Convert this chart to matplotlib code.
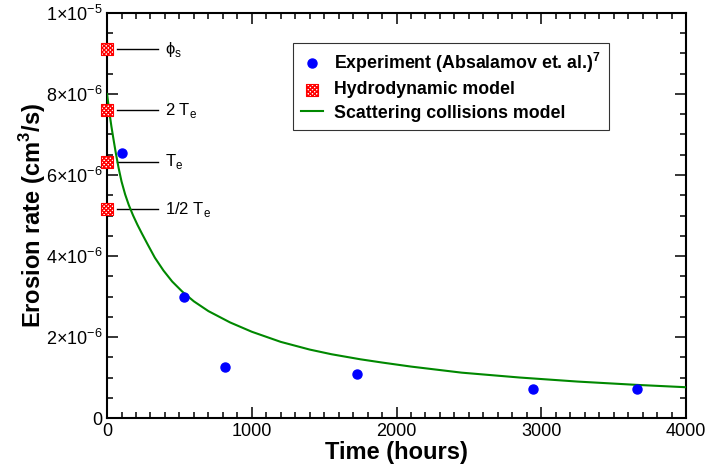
import numpy as np
import matplotlib
matplotlib.use("Agg")
import matplotlib.pyplot as plt
from matplotlib.ticker import MultipleLocator, FuncFormatter

# Experiment (Absalamov et al.)
exp_t = [106, 535, 812, 1730, 2940, 3662]
exp_rate = [6.55e-6, 3.0e-6, 1.27e-6, 1.09e-6, 0.71e-6, 0.72e-6]

# Hydrodynamic model values (at t = 0)
hyd_t = [0, 0, 0, 0]
hyd_rate = [9.10e-6, 7.60e-6, 6.33e-6, 5.16e-6]
hyd_labels = [r"ϕ$_\mathregular{s}$", r"2 T$_\mathregular{e}$",
              r"T$_\mathregular{e}$", r"1/2 T$_\mathregular{e}$"]

# Scattering collisions model
sc_t = [0, 10, 20, 30, 45, 60, 80, 100, 125, 150, 180, 210, 240, 280, 330,
        390, 450, 520, 600, 700, 850, 1000, 1200, 1400, 1550, 1750, 1900,
        2100, 2450, 2850, 3250, 3650, 4000]
sc_rate = [8.0, 7.72, 7.45, 7.2, 6.87, 6.55, 6.17, 5.84, 5.52, 5.26, 5.0, 4.77,
           4.56, 4.29, 3.96, 3.64, 3.37, 3.12, 2.88, 2.64, 2.36, 2.13, 1.88,
           1.69, 1.575, 1.45, 1.37, 1.27, 1.12, 1.0, 0.9, 0.82, 0.76]
sc_rate = [v * 1e-6 for v in sc_rate]

plt.rcParams['font.family'] = ['Liberation Sans', 'DejaVu Sans']
plt.rcParams['mathtext.fontset'] = 'custom'
plt.rcParams['mathtext.rm'] = 'Liberation Sans'
plt.rcParams['mathtext.bf'] = 'Liberation Sans:bold'


def sci_fmt(v, pos):
    if abs(v) < 1e-12:
        return "0"
    e = int(np.floor(np.log10(abs(v)) + 1e-9))
    m = v / 10 ** e
    return r"$\mathregular{%d{\times}10^{%d}}$" % (round(m), e)


fig = plt.figure(figsize=(7.09, 4.69), dpi=100)
ax = fig.add_axes([0.151, 0.1087, 0.8166, 0.8636])

ax.plot(exp_t, exp_rate, 'o', color='#0000ff', markersize=6.5,
        label=r"Experiment (Absalamov et. al.)$^{\mathbf{7}}$", zorder=5)
ax.scatter(hyd_t, hyd_rate, marker='s', s=75, facecolor='white',
           edgecolor='#ff0000', hatch='xxxxxxxx', linewidth=0.8,
           label="Hydrodynamic model", clip_on=False, zorder=6)
ax.plot(sc_t, sc_rate, '-', color='#008800', linewidth=1.5,
        label="Scattering collisions model", zorder=4)

# annotation lines for the hydrodynamic values
for y, lab in zip(hyd_rate, hyd_labels):
    ax.plot([70, 350], [y, y], color='black', linewidth=1.0)
    ax.text(400, y, lab, fontsize=12, va='center', ha='left')

ax.set_xlim(0, 4000)
ax.set_ylim(0, 1e-5)
ax.xaxis.set_major_locator(MultipleLocator(1000))
ax.xaxis.set_minor_locator(MultipleLocator(100))
ax.yaxis.set_major_locator(MultipleLocator(2e-6))
ax.yaxis.set_minor_locator(MultipleLocator(0.5e-6))
ax.yaxis.set_major_formatter(FuncFormatter(sci_fmt))

ax.tick_params(which='both', direction='in', top=True, right=True,
               labelsize=13, width=1.1)
ax.tick_params(which='major', length=8)
ax.tick_params(which='minor', length=4.3)
for s in ax.spines.values():
    s.set_linewidth(1.5)

ax.set_xlabel("Time (hours)", fontsize=17, fontweight='bold', labelpad=1)
ax.set_ylabel(r"Erosion rate (cm$^\mathbf{3}$/s)", fontsize=17,
              fontweight='bold', labelpad=-2)

leg = ax.legend(loc='upper left', bbox_to_anchor=(0.321, 0.926),
                borderaxespad=0, prop={'weight': 'bold', 'size': 12.8},
                frameon=True, fancybox=False, edgecolor='black',
                handlelength=1.25, labelspacing=0.35, borderpad=0.45,
                handletextpad=0.6)
leg.get_frame().set_linewidth(0.8)

plt.savefig("out.png", dpi=100)
